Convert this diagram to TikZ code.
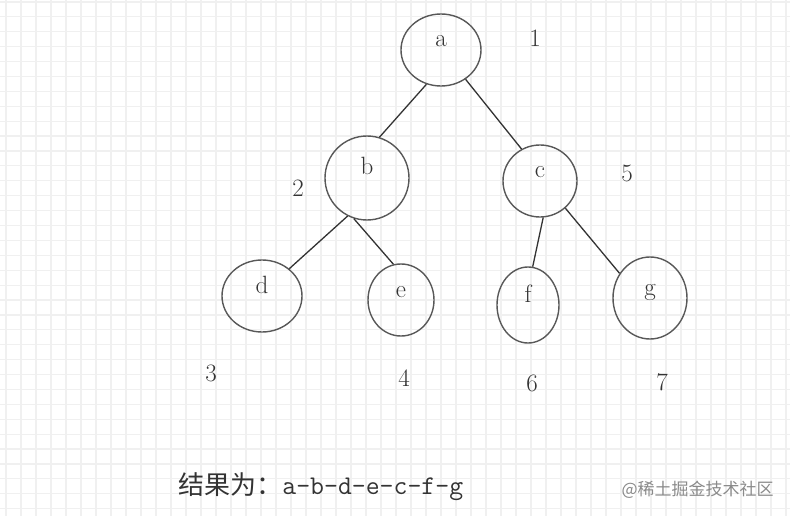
\documentclass[tikz,border=0pt]{standalone}
\usepackage{fontspec}
\newfontfamily\cjkfont{Noto Sans CJK SC}
\usetikzlibrary{shapes.geometric}
\definecolor{gridgray}{HTML}{F0F0F0}
\definecolor{linegray}{HTML}{585858}
\definecolor{textgray}{HTML}{333333}
\definecolor{markgray}{HTML}{8A8A8A}

\begin{document}
\begin{tikzpicture}[x=1pt,y=-1pt,thick,
  main node/.style={ellipse,draw=linegray,line width=1.4pt,inner sep=0pt,text height=10pt,text depth=16pt,text=textgray,font=\fontsize{25}{25}\selectfont},
  num node/.style={inner sep=0pt,text=textgray,font=\fontsize{25}{25}\selectfont},
  grid line/.style={draw=gridgray,line width=1.2pt}]

	\useasboundingbox (0,0) rectangle (790,516);
	\fill[white] (0,0) rectangle (790,516);
	\foreach \i in {0,...,52}
		\path[grid line] (6+15*\i,0) -- (6+15*\i,516);
	\foreach \j in {0,...,34}
		\path[grid line] (0,2+14.9*\j) -- (790,2+14.9*\j);

	\node[main node,minimum width=80pt,minimum height=72pt] (a) at (441,50) {a};
	\node[main node,minimum width=84pt,minimum height=84pt] (b) at (367,178) {b};
	\node[main node,minimum width=74pt,minimum height=72pt] (c) at (540,181) {c};
	\node[main node,minimum width=80pt,minimum height=72pt] (d) at (262,296) {d};
	\node[main node,minimum width=66pt,minimum height=72pt] (e) at (401,300) {e};
	\node[main node,minimum width=62pt,minimum height=76pt] (f) at (528,305) {f};
	\node[main node,minimum width=74pt,minimum height=82pt] (g) at (650,298) {g};

	\node[num node] (n1) at (535,38) {1};
	\node[num node] (n2) at (298,188) {2};
	\node[num node] (n3) at (211,373) {3};
	\node[num node] (n4) at (404,378) {4};
	\node[num node] (n5) at (627,173) {5};
	\node[num node] (n6) at (532,383) {6};
	\node[num node] (n7) at (662,382) {7};

	\path[draw=textgray,line width=1.3pt]
	(a.247) edge (b.73)
	(a.310) edge (c.120)
	(b.243) edge (d.45)
	(b.252) edge (e.102)
	(c.275) edge (f.83)
	(c.313) edge (g.141);

	\node[anchor=west,inner sep=0pt,text=textgray] (result) at (178,487)
		{{\cjkfont\fontsize{26}{26}\selectfont 结果为：}{\ttfamily\fontsize{27}{27}\selectfont a-b-d-e-c-f-g}};
	\node[anchor=east,inner sep=0pt,text=markgray] (mark) at (774,490)
		{\cjkfont\fontsize{17}{17}\selectfont @稀土掘金技术社区};
\end{tikzpicture}
\end{document}
